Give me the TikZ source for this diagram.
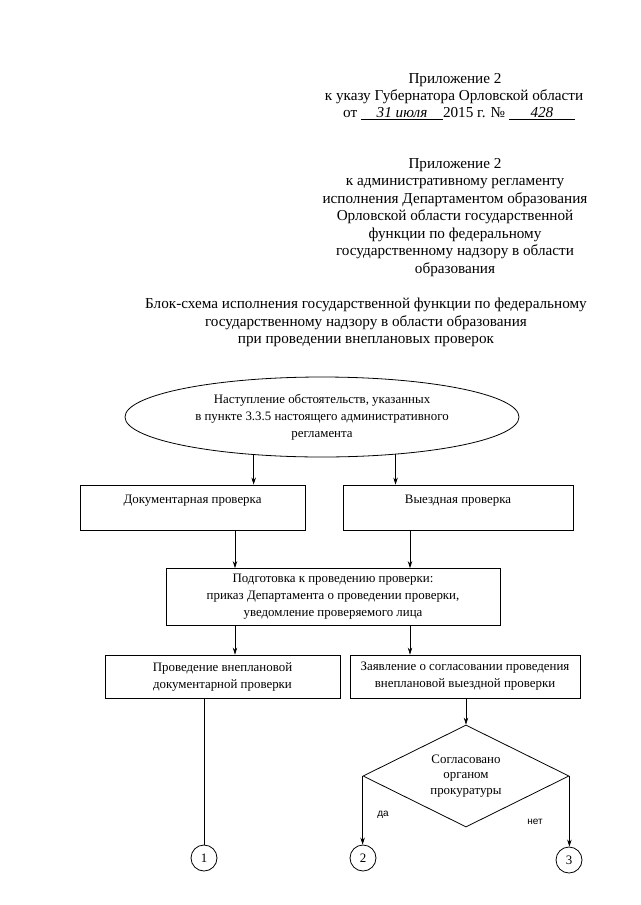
\documentclass[tikz,border=0pt]{standalone}
\usepackage{fontspec}
\setmainfont{Liberation Serif}
\newfontfamily\labfont{Liberation Sans}
\usetikzlibrary{arrows.meta,shapes.geometric}
\newcommand\hdsz{\fontsize{15.2}{17.5}\selectfont}
\newcommand\fsz{\fontsize{12.9}{17}\selectfont}
\tikzset{
  htxt/.style={align=center, inner sep=0pt, font=\hdsz},
  box/.style={draw, line width=0.8pt, align=center, inner sep=0pt, font=\fsz},
  arr/.style={-{Stealth[length=7pt,width=4.5pt]}, line width=0.7pt},
  conn/.style={line width=0.7pt},
  ring/.style={draw, circle, line width=0.8pt, minimum size=26pt, inner sep=0pt, font=\fsz},
  lab/.style={inner sep=0pt, font=\labfont\fontsize{10}{12}\selectfont}
}
\begin{document}
\begin{tikzpicture}[x=1pt,y=-1pt]
\useasboundingbox[fill=white] (0,0) rectangle (640,905);
% header 1
\node[htxt] (h1a) at (455,80) {Приложение 2};
\node[htxt] (h1b) at (454,97) {к указу Губернатора Орловской области};
\node[htxt, anchor=west] (h1c) at (343,114) {от \underline{\makebox[82pt]{\itshape 31 июля}}2015 г. № \underline{\makebox[66pt]{\itshape 428}}};
% header 2
\node[htxt] (h2) at (455,217.5) {Приложение 2\\к административному регламенту\\исполнения Департаментом образования\\Орловской области государственной\\функции по федеральному\\государственному надзору в области\\образования};
% title
\node[htxt] (title) at (366,322.5) {Блок-схема исполнения государственной функции по федеральному\\государственному надзору в области образования\\при проведении внеплановых проверок};
% ellipse
\node[draw, ellipse, line width=0.8pt, minimum width=394pt, minimum height=80pt, inner sep=0pt, align=center, font=\fsz] (ell) at (322,417) {Наступление обстоятельств, указанных\\в пункте 3.3.5 настоящего административного\\регламента};
% row 1
\node[box, minimum width=225pt, minimum height=45pt] (b1) at (192.5,507.5) {Документарная проверка\\\mbox{}};
\node[box, minimum width=230pt, minimum height=45pt] (b2) at (458,507.5) {Выездная проверка\\\mbox{}};
% row 2
\node[box, minimum width=334pt, minimum height=57pt] (b3) at (333,597) {Подготовка к проведению проверки:\\приказ Департамента о проведении проверки,\\уведомление проверяемого лица};
% row 3
\node[box, minimum width=235pt, minimum height=43pt] (b4) at (222.5,676.5) {Проведение внеплановой\\документарной проверки};
\node[box, minimum width=230pt, minimum height=43pt] (b5) at (465,676.5) {Заявление о согласовании проведения\\внеплановой выездной проверки};
% diamond
\node[draw, diamond, aspect=2, line width=0.8pt, minimum width=206pt, minimum height=102pt, inner sep=0pt, align=center, font=\fontsize{12.9}{15.5}\selectfont] (dia) at (466,776) {Согласовано\\органом\\прокуратуры};
% circles
\node[ring] (c1) at (204,858) {1};
\node[ring] (c2) at (363,858) {2};
\node[ring] (c3) at (569,860) {3};
% labels
\node[lab] (yes) at (383,815) {да};
\node[lab] (no) at (535,822) {нет};
% connectors
\draw[arr] (ell.209.3) -- (ell.209.3 |- b1.north);
\draw[arr] (ell.333.7) -- (ell.333.7 |- b2.north);
\draw[arr] ([xshift=42.5pt]b1.south) -- ([xshift=42.5pt]b1.south |- b3.north);
\draw[arr] ([xshift=-48pt]b2.south) -- ([xshift=-48pt]b2.south |- b3.north);
\draw[arr] ([xshift=-98pt]b3.south) -- ([xshift=-98pt]b3.south |- b4.north);
\draw[arr] ([xshift=77pt]b3.south) -- ([xshift=77pt]b3.south |- b5.north);
\draw[conn] (b4.south -| c1.north) -- (c1.north);
\draw[arr] (b5.south -| dia.north) -- (dia.north);
\draw[arr] (dia.west) -- (dia.west |- c2.north);
\draw[arr] (dia.east) -- (dia.east |- c3.north);
\end{tikzpicture}
\end{document}
